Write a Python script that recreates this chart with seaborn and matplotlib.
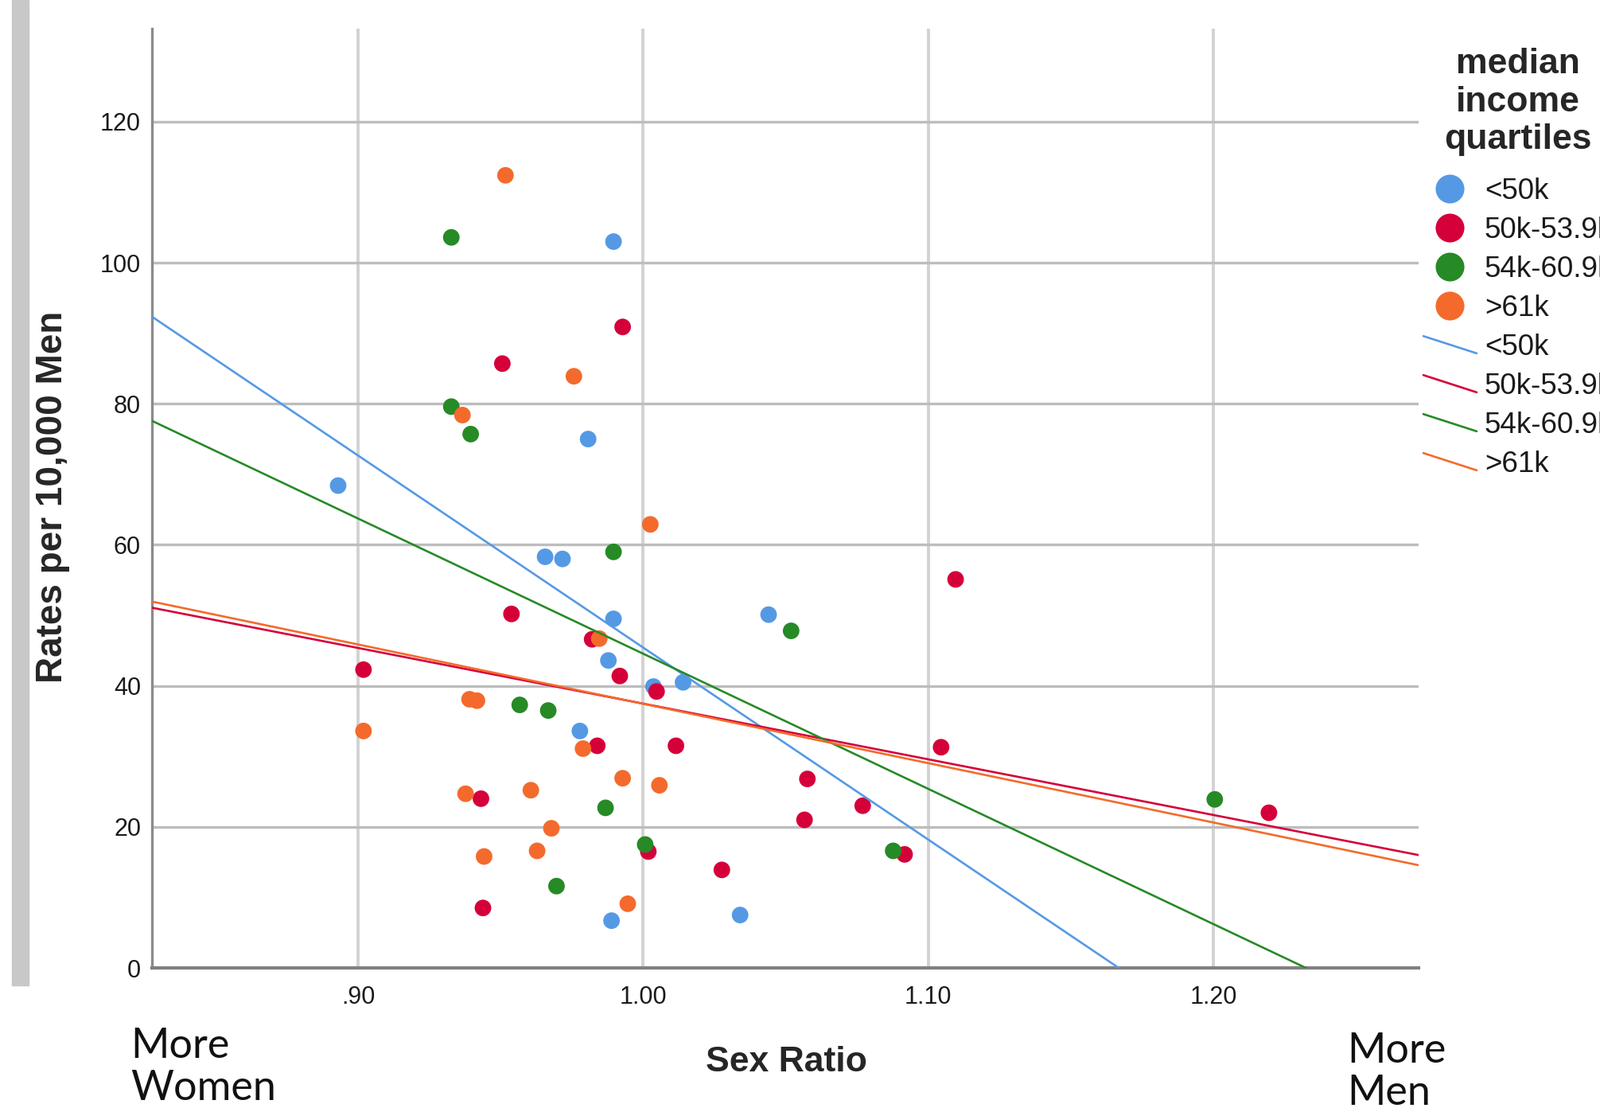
import numpy as np
import pandas as pd
import matplotlib
matplotlib.use('Agg')
import matplotlib.pyplot as plt
import seaborn as sns
from matplotlib.lines import Line2D
from matplotlib.legend_handler import HandlerLine2D
from matplotlib.patches import Rectangle

# ---------------- data ----------------
groups = ['<50k', '50k-53.9k', '54k-60.9k', '>61k']
colors = ['#5599E5', '#D5003A', '#268A26', '#F46A2C']

ratio_lt50 = [0.8930, 0.9896, 0.9807, 0.9656, 0.9717, 0.9896, 0.9878, 1.0036,
              1.0140, 1.0440, 0.9778, 0.9889, 1.0340]
rate_lt50 = [68.4, 103.0, 75.0, 58.3, 58.0, 49.5, 43.6, 39.9,
             40.5, 50.1, 33.6, 6.7, 7.5]

ratio_50_54 = [0.9928, 0.9506, 0.9538, 0.9821, 0.9918, 1.0047, 0.9019, 0.9839,
               1.0115, 0.9431, 1.0018, 0.9438, 1.0276, 1.0576, 1.0566, 1.0770,
               1.0917, 1.1096, 1.1045, 1.2195]
rate_50_54 = [90.9, 85.7, 50.2, 46.6, 41.4, 39.2, 42.3, 31.5,
              31.5, 24.0, 16.5, 8.5, 13.9, 26.8, 21.0, 23.0,
              16.1, 55.1, 31.3, 22.0]

ratio_54_61 = [0.9327, 0.9327, 0.9395, 0.9896, 1.0519, 0.9567, 0.9667, 0.9868,
               1.0007, 0.9696, 1.0877, 1.2005]
rate_54_61 = [103.6, 79.6, 75.7, 59.0, 47.8, 37.3, 36.5, 22.7,
              17.5, 11.6, 16.6, 23.9]

ratio_gt61 = [0.9517, 0.9757, 0.9366, 1.0025, 0.9846, 0.9391, 0.9417, 0.9019,
              0.9789, 0.9928, 1.0057, 0.9606, 0.9377, 0.9678, 0.9628, 0.9442,
              0.9946]
rate_gt61 = [112.4, 83.9, 78.4, 62.9, 46.7, 38.1, 37.9, 33.6,
             31.1, 26.9, 25.9, 25.2, 24.7, 19.8, 16.6, 15.8,
             9.1]

x_ticks = [0.90, 1.00, 1.10, 1.20]
x_ticklabels = ['.90', '1.00', '1.10', '1.20']
y_ticks = [0, 20, 40, 60, 80, 100, 120]

df = pd.concat([
    pd.DataFrame({'sex_ratio': ratio_lt50, 'rate': rate_lt50, 'quartile': groups[0]}),
    pd.DataFrame({'sex_ratio': ratio_50_54, 'rate': rate_50_54, 'quartile': groups[1]}),
    pd.DataFrame({'sex_ratio': ratio_54_61, 'rate': rate_54_61, 'quartile': groups[2]}),
    pd.DataFrame({'sex_ratio': ratio_gt61, 'rate': rate_gt61, 'quartile': groups[3]}),
], ignore_index=True)

# ---------------- style ----------------
sns.set_style('white')
plt.rcParams['font.family'] = ['Liberation Sans', 'DejaVu Sans']

W, H = 2011, 1392
fig = plt.figure(figsize=(W / 100, H / 100), dpi=100)
ax = fig.add_axes([191 / W, 1 - 1216 / H, 1592 / W, 1180 / H])
XLIM = (0.8277, 1.272)
YLIM = (0, 133.2)
ax.set_xlim(*XLIM)
ax.set_ylim(*YLIM)

sns.scatterplot(data=df, x='sex_ratio', y='rate', hue='quartile', hue_order=groups,
                palette=colors, s=225, linewidth=0, legend=False, ax=ax, zorder=2)

for g, c in zip(groups, colors):
    sub = df[df['quartile'] == g]
    ax.set_xlim(*XLIM)
    sns.regplot(data=sub, x='sex_ratio', y='rate', scatter=False, ci=None,
                truncate=False, color=c, line_kws=dict(lw=1.9, zorder=3), ax=ax)

ax.set_xlim(*XLIM)
ax.set_ylim(*YLIM)
ax.set_xlabel('')
ax.set_ylabel('')

ax.set_axisbelow(True)
ax.xaxis.grid(True, color='#d2d2d2', lw=2.8)
ax.yaxis.grid(True, color='#bdbdbd', lw=2.4)
for s in ['top', 'right']:
    ax.spines[s].set_visible(False)
ax.spines['left'].set_color('#8c8c8c')
ax.spines['left'].set_linewidth(2.4)
ax.spines['bottom'].set_color('#808080')
ax.spines['bottom'].set_linewidth(3)

ax.set_xticks(x_ticks)
ax.set_xticklabels(x_ticklabels)
ax.set_yticks(y_ticks)
ax.tick_params(axis='both', length=0, labelsize=22, labelcolor='#1a1a1a')
ax.tick_params(axis='x', pad=16)
ax.tick_params(axis='y', pad=10)

# ---------------- texts ----------------
fig.text(988 / W, 1 - 1335 / H, 'Sex Ratio', ha='center', va='center',
         fontsize=32, fontweight='bold')
fig.text(66 / W, 1 - 624 / H, 'Rates per 10,000 Men', rotation=90, ha='center',
         va='center', fontsize=33, fontweight='bold')
fig.text(164 / W, 1 - 1341 / H, 'More\nWomen', ha='left', va='center',
         fontsize=37.5, family=['Lato', 'DejaVu Sans'], fontweight='normal',
         color='#111111', linespacing=1.14)
fig.text(1693 / W, 1 - 1347 / H, 'More\nMen', ha='left', va='center',
         fontsize=37.5, family=['Lato', 'DejaVu Sans'], fontweight='normal',
         color='#111111', linespacing=1.14)

fig.patches.append(Rectangle((15 / W, 1 - 1238 / H), 21 / W, 1238 / H,
                             transform=fig.transFigure, color='#c8c8c8', zorder=0))

# legend title
fig.text(1908 / W, 1 - 128 / H, 'median\nincome\nquartiles', ha='center', va='center',
         multialignment='center', fontsize=32, fontweight='bold', linespacing=1.19)

# ---------------- legend ----------------
class SlantHandler(HandlerLine2D):
    def create_artists(self, legend, orig_handle, xdescent, ydescent, width,
                       height, fontsize, trans):
        x0 = -xdescent
        x1 = -xdescent + width
        yc = -ydescent + height / 2
        d = 0.42 * height
        line = Line2D([x0, x1], [yc + d, yc - d])
        self.update_prop(line, orig_handle, legend)
        line.set_transform(trans)
        return [line]

marker_handles = [Line2D([], [], marker='o', ls='none', markersize=26,
                         markerfacecolor=c, markeredgewidth=0) for c in colors]
line_handles = [Line2D([], [], color=c, lw=1.9) for c in colors]
handles = marker_handles + line_handles
labels = groups + groups
hmap = {h: SlantHandler() for h in line_handles}

leg = ax.legend(handles, labels, handler_map=hmap, loc='upper left',
                bbox_to_anchor=(1789 / W, 1 - 223 / H), bbox_transform=fig.transFigure,
                frameon=False, fontsize=26.5,
                handlelength=1.82, handletextpad=0.27, labelspacing=0.38,
                borderpad=0, borderaxespad=0)
for t in leg.get_texts():
    t.set_color('#1a1a1a')

fig.savefig('out.png', dpi=100)
